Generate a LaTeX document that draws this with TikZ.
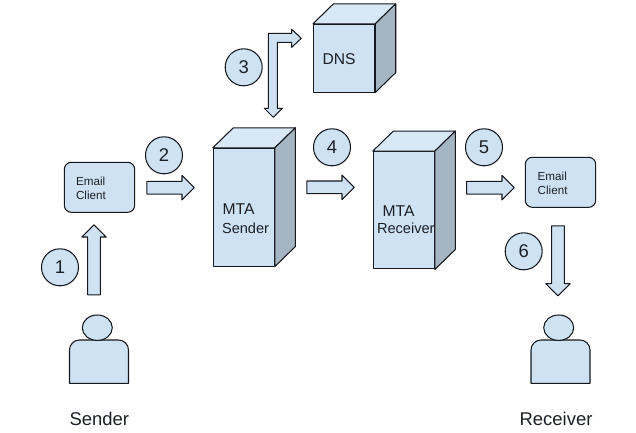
\documentclass[tikz,border=0pt]{standalone}
\usepackage{fontspec}
\setmainfont{Liberation Sans}
\usetikzlibrary{shapes.geometric,shapes.arrows}

\definecolor{Face}{HTML}{CFE2F3}
\definecolor{TopFace}{HTML}{D9E8F5}
\definecolor{SideFace}{HTML}{A6B5C2}
\definecolor{Stroke}{HTML}{15181F}
\definecolor{Ink}{HTML}{1C1F26}

\def\px{0.02cm}

\tikzset{
  shape line/.style={draw=Stroke, line width=0.6pt, line join=round},
  front face/.style={shape line, fill=Face, inner sep=0pt},
  number/.style={shape line, circle, fill=Face, text=Ink, inner sep=0pt, minimum size=37*\px, font=\fontsize{10.5}{12}\selectfont},
  client/.style={shape line, fill=Face, rounded corners=7*\px, inner sep=0pt, minimum width=70.4*\px, minimum height=50*\px},
  block/.style={shape line, fill=Face, single arrow, anchor=tail, inner sep=0pt, text width=11.6*\px, text height=11.6*\px, text depth=0pt, single arrow head extend=5.9*\px, minimum width=23.4*\px},
  word/.style={anchor=base west, inner sep=0pt, text=Ink},
  tiny word/.style={word, font=\fontsize{6.65}{8}\selectfont},
  big word/.style={word, font=\fontsize{8.9}{10}\selectfont},
  small word/.style={word, font=\fontsize{8.3}{10}\selectfont},
  caption/.style={word, font=\fontsize{10.5}{12}\selectfont},
}

\begin{document}
\begin{tikzpicture}[x=0.02cm, y=-0.02cm]

 \useasboundingbox (0,0) rectangle (636,433);

 %%%%%%%%%% Boxes %%%%%%%%%%
 \node [front face, minimum width=61.2*\px, minimum height=67.7*\px] (dns) at (344.1,58.2) {};
 \node [front face, minimum width=61*\px, minimum height=117.7*\px] (mtasender) at (243.8,207.2) {};
 \node [front face, minimum width=61*\px, minimum height=117.3*\px] (mtareceiver) at (403.8,210.3) {};

 % Top and side of each box
 \foreach \cube in {dns, mtasender, mtareceiver} {
   \path (\cube.north east) ++(20.5,-20) coordinate (\cube back);
   \path (\cube.south east) ++(20.5,-20) coordinate (\cube low);
   \path (\cube.north west) ++(20.5,-20) coordinate (\cube far);
   \draw [shape line, fill=TopFace] (\cube.north west) -- (\cube far) -- (\cube back) -- (\cube.north east) -- cycle;
   \draw [shape line, fill=SideFace] (\cube.north east) -- (\cube back) -- (\cube low) -- (\cube.south east) -- cycle;
 }

 \node [big word] (dnstext) at (322.3,64.3) {DNS};
 \node [big word] (mtasendertop) at (222.3,214) {MTA};
 \node [small word] (mtasendertext) at (221.7,233.3) {Sender};
 \node [big word] (mtareceivertop) at (382.3,216.7) {MTA};
 \node [small word] (mtareceivertext) at (376.7,233.3) {Receiver};

 %%%%%%%%%% Email clients %%%%%%%%%%
 \node [client] (clientsender) at (99.5,187.3) {};
 \node [client] (clientreceiver) at (560.5,182.3) {};
 \node [tiny word] (emailsender) at (75.7,185.3) {Email};
 \node [tiny word] (namesender) at (75.7,199.3) {Client};
 \node [tiny word] (emailreceiver) at (537.3,180) {Email};
 \node [tiny word] (namereceiver) at (537.3,194.3) {Client};

 %%%%%%%%%% People %%%%%%%%%%
 \foreach \name/\x/\headx in {sender/99/97.3, receiver/560.5/558.7} {
   \draw [shape line, fill=Face] (\x-29.5,383.3) -- (\x-29.5,360) [rounded corners=10*\px] -- (\x-29.5,340) -- (\x+29.5,340) -- (\x+29.5,360) [sharp corners] -- (\x+29.5,383.3) -- cycle;
   \node [shape line, ellipse, fill=Face, inner sep=0pt, minimum width=30*\px, minimum height=25.4*\px] (head\name) at (\headx,327.7) {};
 }
 \node [caption] (sendername) at (69.3,425) {Sender};
 \node [caption] (receivername) at (519.3,425) {Receiver};

 %%%%%%%%%% Steps %%%%%%%%%%
 \foreach \num/\x/\y in {1/60/267.3, 2/164/155.3, 3/243.7/67.3, 4/332/147.3, 5/484/147.3, 6/523.7/251.3}
   \node [number] (step\num) at (\x,\y) {\num};

 %%%%%%%%%% Block arrows %%%%%%%%%%
 \node [block, minimum height=70*\px, shape border rotate=90] (arrowone) at (94,295.3) {};
 \node [block, minimum height=47.4*\px] (arrowtwo) at (146.3,187.7) {};
 \node [block, minimum height=47.4*\px] (arrowfour) at (306.3,187.3) {};
 \node [block, minimum height=47.7*\px] (arrowfive) at (466,187.7) {};
 \node [block, minimum height=70*\px, shape border rotate=270] (arrowsix) at (558,225.3) {};

 % Bent arrow with two heads
 \draw [shape line, fill=Face] (273.3,117.3) -- (264.3,108.3) -- (268.3,108.3) -- (268.3,33.3) -- (291.7,33.3) -- (291.7,29.3) -- (301.3,38.3) -- (291.7,47.3) -- (291.7,42.3) -- (277.3,42.3) -- (277.3,108.3) -- (282.3,108.3) -- cycle;

\end{tikzpicture}
\end{document}
